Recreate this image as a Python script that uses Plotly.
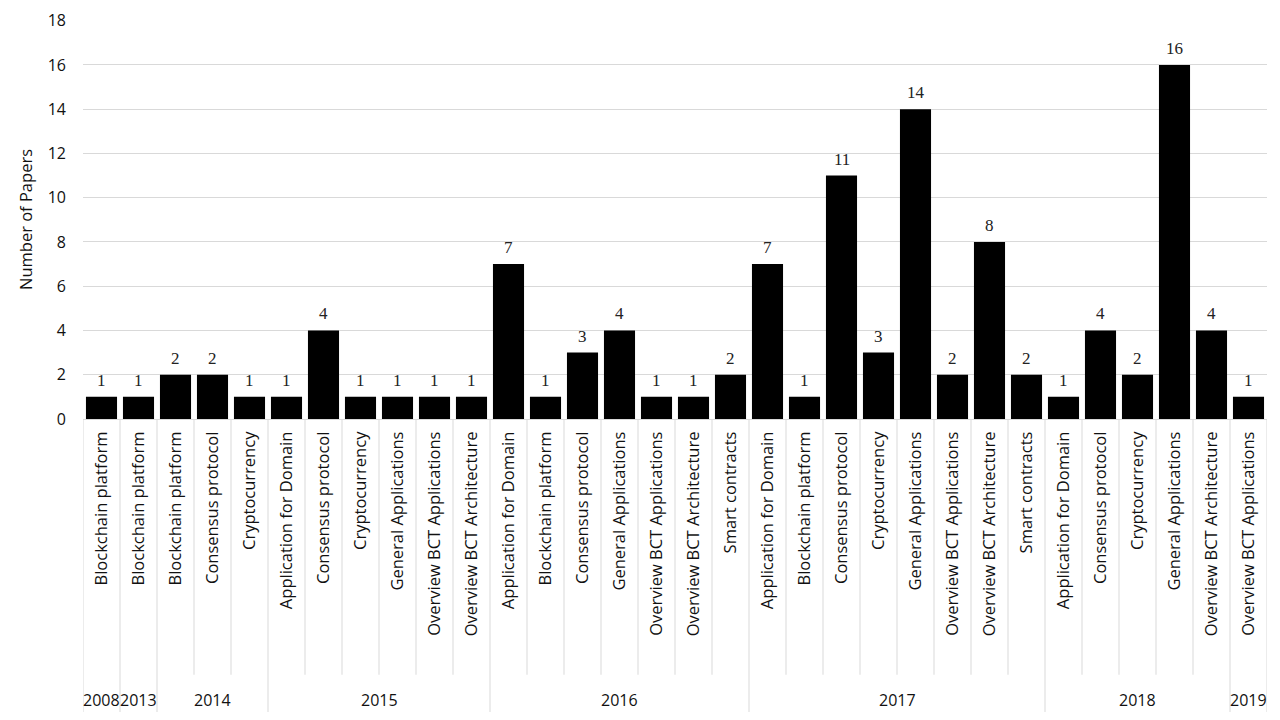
import plotly.graph_objects as go

# one entry per bar, in display order
years = ["2008", "2013", "2014", "2014", "2014",
         "2015", "2015", "2015", "2015", "2015", "2015",
         "2016", "2016", "2016", "2016", "2016", "2016", "2016",
         "2017", "2017", "2017", "2017", "2017", "2017", "2017", "2017",
         "2018", "2018", "2018", "2018", "2018",
         "2019"]
topics = ["Blockchain platform", "Blockchain platform", "Blockchain platform",
          "Consensus protocol", "Cryptocurrency",
          "Application for Domain", "Consensus protocol", "Cryptocurrency",
          "General Applications", "Overview BCT Applications", "Overview BCT Architecture",
          "Application for Domain", "Blockchain platform", "Consensus protocol",
          "General Applications", "Overview BCT Applications", "Overview BCT Architecture",
          "Smart contracts",
          "Application for Domain", "Blockchain platform", "Consensus protocol",
          "Cryptocurrency", "General Applications", "Overview BCT Applications",
          "Overview BCT Architecture", "Smart contracts",
          "Application for Domain", "Consensus protocol", "Cryptocurrency",
          "General Applications", "Overview BCT Architecture",
          "Overview BCT Applications"]
papers = [1, 1, 2, 2, 1, 1, 4, 1, 1, 1, 1, 7, 1, 3, 4, 1, 1, 2,
          7, 1, 11, 3, 14, 2, 8, 2, 1, 4, 2, 16, 4, 1]

SANS = "'Open Sans', sans-serif"
GRID = "#d9d9d9"
TXT = "#111"

idx = list(range(len(papers)))

fig = go.Figure(go.Bar(
    x=idx,
    y=papers,
    marker=dict(color="black", line_width=0),
    hovertemplate="%{y}<extra></extra>",
))

shapes = []
annotations = []

# value labels above the bars (a bit more gap than the bar text gives)
for i, v in zip(idx, papers):
    annotations.append(dict(
        x=i, y=v, xref="x", yref="y", text=str(v), showarrow=False,
        xanchor="center", yanchor="bottom", yshift=5,
        font=dict(family="'Liberation Serif', serif", size=17, color="#222"),
    ))

# group boundaries from the year list
bounds = [0]
for i in range(1, len(years)):
    if years[i] != years[i - 1]:
        bounds.append(i)
bounds.append(len(years))

for i in range(len(years) + 1):
    long_line = i in bounds
    shapes.append(dict(
        type="line", xref="x", yref="paper", x0=i - 0.5, x1=i - 0.5,
        y0=0, y1=-0.737 if long_line else -0.641,
        line=dict(color=GRID, width=1),
    ))

for a, b in zip(bounds[:-1], bounds[1:]):
    annotations.append(dict(
        x=(a + b - 1) / 2, y=-0.705, xref="x", yref="paper", text=years[a],
        showarrow=False, xanchor="center", yanchor="middle",
        font=dict(family=SANS, size=16, color=TXT),
    ))

# page body keeps an 8px margin, so the figure is sized to fit inside it
fig.update_layout(
    width=1264, height=704,
    margin=dict(l=75, r=5, t=12, b=293),
    paper_bgcolor="white", plot_bgcolor="white",
    bargap=0.16,
    showlegend=False,
    shapes=shapes,
    annotations=annotations,
    xaxis=dict(
        range=[-0.5, len(papers) - 0.5], automargin=False,
        tickvals=idx, ticktext=topics, tickangle=-90,
        tickfont=dict(family=SANS, size=16.5, color=TXT),
        ticks="", ticklabelstandoff=5,
        showgrid=False, zeroline=False,
        showline=True, linecolor=GRID, linewidth=1,
    ),
    yaxis=dict(
        range=[0, 18.03], dtick=2, automargin=False,
        showgrid=True, gridcolor=GRID, gridwidth=1,
        zeroline=False, ticks="", ticklabelstandoff=16,
        ticklabeloverflow="allow",
        tickfont=dict(family=SANS, size=16, color=TXT),
        title=dict(text="Number of Papers", standoff=10,
                   font=dict(family=SANS, size=16.5, color=TXT)),
    ),
)

fig.write_html("out.html")
